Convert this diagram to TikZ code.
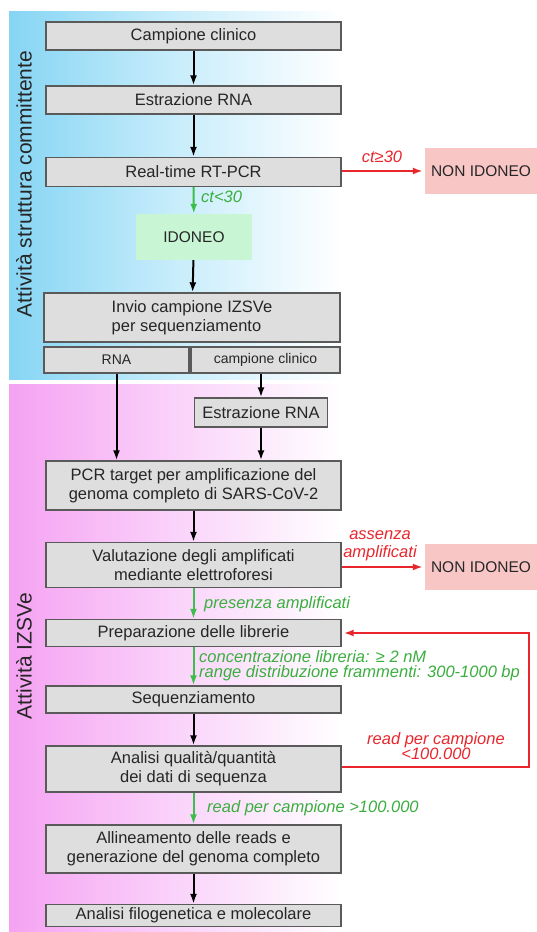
\documentclass[tikz,border=0pt]{standalone}
\usepackage{fontspec}
\setmainfont{Liberation Sans}
\usetikzlibrary{arrows.meta}
\definecolor{boxfill}{HTML}{DEDEDE}
\definecolor{boxdraw}{HTML}{5A5A5A}
\definecolor{redc}{HTML}{E8262C}
\definecolor{greenc}{HTML}{3CBF4A}
\definecolor{greent}{HTML}{3AAE3E}
\definecolor{noid}{HTML}{F9C6C6}
\definecolor{idon}{HTML}{C8F5D4}
\definecolor{bluel}{HTML}{86D5F4}
\definecolor{bluem}{HTML}{C8EDFB}
\definecolor{pinkl}{HTML}{F5A2F2}
\definecolor{pinkm}{HTML}{FAD3FA}
\begin{document}
\begin{tikzpicture}[x=1pt,y=-1pt,
  box/.style={draw=boxdraw, fill=boxfill, line width=1.4pt, inner sep=0pt,
    font=\fontsize{16.5}{19}\selectfont, text=black!85, align=center},
  smallbox/.style={box, font=\fontsize{14}{16}\selectfont},
  flag/.style={inner sep=0pt, font=\fontsize{15.5}{18.5}\selectfont, text=black!85},
  blk/.style={-{Latex[length=10pt,width=7pt]}, line width=2pt, black},
  grn/.style={-{Latex[length=10pt,width=7pt]}, line width=2pt, greenc},
  rd/.style={-{Latex[length=10pt,width=7pt]}, line width=2pt, redc, shorten >=2pt},
  glab/.style={inner sep=0pt, font=\fontsize{16.5}{15}\selectfont\itshape, text=greent, align=left},
  rlab/.style={inner sep=0pt, font=\fontsize{16.5}{18}\selectfont\itshape, text=redc, align=center},
  side/.style={inner sep=0pt, rotate=90, font=\fontsize{21}{24}\selectfont, text=black!85}]
\useasboundingbox (0,0) rectangle (537,932);
% background bands
\shade[left color=bluel, right color=white, middle color=bluem] (9,11) rectangle (342,379);
\shade[left color=pinkl, right color=white, middle color=pinkm] (9,384) rectangle (342,932);
\node[side] (lab1) at (24,184) {Attività struttura committente};
\node[side] (lab2) at (24,656) {Attività IZSVe};
% boxes
\node[box, minimum width=295pt, minimum height=28pt] (camp) at (193.5,36) {Campione clinico};
\node[box, minimum width=295pt, minimum height=28pt] (estr1) at (193.5,100) {Estrazione RNA};
\node[box, minimum width=295pt, minimum height=29pt] (rt) at (193.5,172) {Real-time RT-PCR};
\node[flag, fill=noid, minimum width=112pt, minimum height=46pt] (no1) at (481,171) {NON IDONEO};
\node[flag, fill=idon, minimum width=116pt, minimum height=46pt] (ido) at (194,237) {IDONEO};
\node[box, minimum width=296pt, minimum height=49pt, align=left] (invio) at (192,317.5) {Invio campione IZSVe\\per sequenziamento};
\node[smallbox, minimum width=145pt, minimum height=26pt] (rna) at (116.5,360) {RNA};
\node[smallbox, minimum width=149pt, minimum height=26pt] (cc) at (265.5,360) {campione clinico};
\node[box, minimum width=133pt, minimum height=29pt] (estr2) at (261,412.5) {Estrazione RNA};
\node[box, minimum width=295pt, minimum height=49pt] (pcr) at (193.5,485.5) {PCR target per amplificazione del\\genoma completo di SARS-CoV-2};
\node[box, minimum width=295pt, minimum height=45pt] (val) at (193.5,565) {Valutazione degli amplificati\\mediante elettroforesi};
\node[flag, fill=noid, minimum width=112pt, minimum height=46pt] (no2) at (481,567) {NON IDONEO};
\node[box, minimum width=295pt, minimum height=27pt] (prep) at (193.5,633) {Preparazione delle librerie};
\node[box, minimum width=295pt, minimum height=27pt] (seq) at (193.5,699.5) {Sequenziamento};
\node[box, minimum width=295pt, minimum height=46pt] (anal) at (193.5,769) {Analisi qualità/quantità\\dei dati di sequenza};
\node[box, minimum width=295pt, minimum height=48pt] (alli) at (193.5,849) {Allineamento delle reads e\\generazione del genoma completo};
\node[box, minimum width=295pt, minimum height=22pt] (filo) at (193.5,915.5) {Analisi filogenetica e molecolare};
% connectors
\draw[blk] (camp) -- (estr1);
\draw[blk] (estr1) -- (rt);
\draw[rd] (rt.east |- no1.west) -- (no1.west);
\node[rlab] (l1) at (382,157) {ct≥30};
\draw[grn] (rt) -- (ido);
\node[glab, anchor=west] (l2) at (201,197) {ct<30};
\draw[blk] (ido) -- (invio);
\coordinate (rnab) at (rna.south);
\draw[blk] (rnab) -- (rnab |- pcr.north);
\draw[blk] (cc.south -| estr2.north) -- (estr2.north);
\draw[blk] (estr2) -- (estr2.south |- pcr.north);
\draw[blk] (pcr) -- (val);
\draw[rd] (val.east |- no2.west) -- (no2.west);
\node[rlab] (l3) at (380,546) {assenza\\amplificati};
\draw[grn] (val) -- (prep);
\node[glab, anchor=west] (l4) at (204,604) {presenza amplificati};
\draw[grn] (prep) -- (seq);
\node[glab, anchor=west] (l5) at (199,666) {concentrazione libreria: ≥ 2 nM\\range distribuzione frammenti: 300-1000 bp};
\draw[blk] (seq) -- (anal);
\coordinate (lp1) at (529,767);
\coordinate (lp2) at (529,633);
\draw[rd] (anal.east |- lp1) -- (lp1) -- (lp2) -- (prep.east);
\node[rlab, font=\fontsize{16.5}{15}\selectfont\itshape] (l6) at (436,746) {read per campione\\<100.000};
\draw[grn] (anal) -- (alli);
\node[glab, anchor=west] (l7) at (207,808) {read per campione >100.000};
\draw[blk] (alli) -- (filo);
\end{tikzpicture}
\end{document}
